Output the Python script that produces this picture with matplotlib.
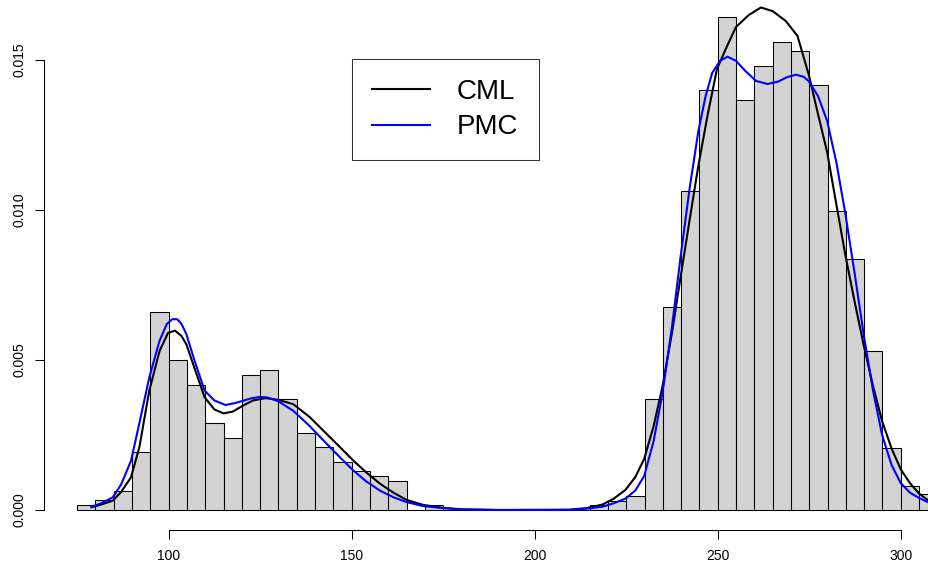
import numpy as np
import matplotlib.pyplot as plt

plt.rcParams['font.family'] = ['Liberation Sans', 'DejaVu Sans']

# histogram: left edges of the 5-unit bins and their density heights
bin_left = list(range(75, 310, 5))
bin_width = 5
density = [0.000167, 0.00032, 0.00063, 0.00193, 0.0066, 0.00499, 0.00418, 0.0029,
           0.00241, 0.0045, 0.00467, 0.0037, 0.00257, 0.0021, 0.0016, 0.00129,
           0.00113, 0.00097, 0.0, 0.00017, 0.0, 0.0, 0.0, 0.0, 0.0, 0.0, 0.0, 0.0,
           0.00015, 0.0003, 0.00046, 0.00369, 0.00676, 0.01062, 0.0140, 0.01643,
           0.01368, 0.0148, 0.0156, 0.01529, 0.01416, 0.00998, 0.00837, 0.0053,
           0.00208, 0.0008, 0.00052]

# CML fitted density
cml_x = [78.9, 81.5, 84.7, 87, 89.7, 92, 94.7, 97.5, 99.8, 101.7, 103.5, 104.8,
         107, 109.8, 112.5, 115, 117.5, 120.3, 123, 126.5, 130, 134, 138.5,
         143.2, 147, 150.5, 154, 157.8, 161.5, 165.1, 169.5, 175.1, 180.5, 190,
         209.3, 214, 218.5, 221.5, 224.8, 227.5, 229.9, 232.5, 234.9, 237.5,
         239.9, 242.3, 244.7, 247.3, 249.8, 252.5, 255, 258.5, 261.8, 265,
         268.6, 271.8, 274.9, 277.4, 279.9, 282.4, 284.9, 287.4, 289.9, 292.4,
         294.9, 297.5, 300, 302.5, 305, 307.7]
cml_y = [0.00009, 0.00018, 0.00031, 0.00060, 0.00109, 0.00210, 0.00398, 0.00530,
         0.00590, 0.00598, 0.00580, 0.00553, 0.00475, 0.00376, 0.00335, 0.00322,
         0.00328, 0.00348, 0.00365, 0.00373, 0.00367, 0.00353, 0.00310, 0.00253,
         0.00207, 0.00164, 0.00125, 0.00087, 0.00057, 0.00033, 0.00017, 0.00007,
         0.00002, 0.0, 0.00001, 0.00006, 0.00018, 0.00037, 0.00067, 0.00110,
         0.00170, 0.00280, 0.00411, 0.00590, 0.00780, 0.00965, 0.01147, 0.01320,
         0.01470, 0.01545, 0.01610, 0.01650, 0.01675, 0.01663, 0.01630, 0.01580,
         0.01450, 0.01320, 0.01193, 0.01020, 0.00848, 0.00695, 0.00549, 0.00415,
         0.00297, 0.00205, 0.00136, 0.00090, 0.00055, 0.00030]

# PMC fitted density
pmc_x = [78.9, 81.5, 84.7, 87, 89.7, 92, 94.7, 97.5, 99.5, 101, 102.3, 103.5,
         104.8, 107, 109.8, 112.5, 115.5, 118, 120.3, 122.5, 124.9, 127, 130,
         134, 138.5, 143.2, 147, 150.5, 154, 157.8, 161.5, 165.1, 169.5, 175.1,
         179.5, 190, 209.3, 214, 218.5, 221.5, 224.8, 227.5, 229.9, 232.5, 234.9,
         237.5, 239.9, 242.3, 244.7, 246.7, 248.5, 250.7, 252.7, 255, 257.6,
         260.5, 263.6, 266.5, 269, 271.4, 273.5, 274.9, 277.4, 279.9, 282.4,
         284.9, 287.4, 289.9, 292.4, 294.9, 297.5, 300, 302.5, 305, 307.7]
pmc_y = [0.00011, 0.00022, 0.00042, 0.00085, 0.00164, 0.00290, 0.00442, 0.00564,
         0.00620, 0.00636, 0.00636, 0.00620, 0.00587, 0.00500, 0.00398, 0.00365,
         0.00350, 0.00356, 0.00364, 0.00372, 0.00377, 0.00375, 0.00362, 0.00331,
         0.00280, 0.00220, 0.00173, 0.00131, 0.00095, 0.00064, 0.00042, 0.00026,
         0.00013, 0.00006, 0.00002, 0.0, 0.0, 0.00004, 0.00011, 0.00022, 0.00038,
         0.00065, 0.00113, 0.00230, 0.00389, 0.00610, 0.00848, 0.01070, 0.01262,
         0.01380, 0.01457, 0.01498, 0.01511, 0.01497, 0.01463, 0.01430, 0.01420,
         0.01428, 0.01443, 0.01451, 0.01444, 0.01429, 0.01380, 0.01297, 0.01160,
         0.00986, 0.00790, 0.00584, 0.00400, 0.00251, 0.00150, 0.00090, 0.00058,
         0.00040, 0.00025]

x_ticks = [100, 150, 200, 250, 300]
y_ticks = [0.000, 0.005, 0.010, 0.015]

fig = plt.figure(figsize=(9.29, 5.66), dpi=100)
ax = fig.add_axes([44 / 929, 36 / 566, 1 - 44 / 929, 1 - 36 / 566])

ax.bar(bin_left, density, width=bin_width, align='edge', color='#D3D3D3',
       edgecolor='black', linewidth=0.75, zorder=1)
ax.plot(cml_x, cml_y, color='black', lw=1.5, label='CML', zorder=3)
ax.plot(pmc_x, pmc_y, color='#0000FF', lw=1.5, label='PMC', zorder=3)

ax.set_xlim(65.93, 307.73)
ax.set_ylim(-0.000667, 0.0170)

# R-style axes: spines only span the tick range
for s in ['top', 'right']:
    ax.spines[s].set_visible(False)
ax.spines['left'].set_bounds(0, 0.015)
ax.spines['bottom'].set_bounds(100, 300)
ax.spines['left'].set_linewidth(0.75)
ax.spines['bottom'].set_linewidth(0.75)

ax.set_xticks(x_ticks)
ax.set_xticklabels([str(v) for v in x_ticks])
ax.set_yticks(y_ticks)
ax.set_yticklabels(['%.3f' % v for v in y_ticks], rotation=90, va='center')
ax.tick_params(axis='both', length=6.5, width=0.75, labelsize=10)
ax.tick_params(axis='x', pad=7)
ax.tick_params(axis='y', pad=6)

leg = ax.legend(loc='upper left', bbox_to_anchor=(352 / 929, 1 - 59 / 566),
                bbox_transform=fig.transFigure, fontsize=20, frameon=True,
                fancybox=False, handlelength=2.09, handletextpad=0.97,
                labelspacing=0.34, borderpad=0.72, borderaxespad=0)
leg.get_frame().set_edgecolor('black')
leg.get_frame().set_linewidth(0.75)
for line in leg.get_lines():
    line.set_linewidth(1.5)

plt.savefig('out.png', dpi=100)
